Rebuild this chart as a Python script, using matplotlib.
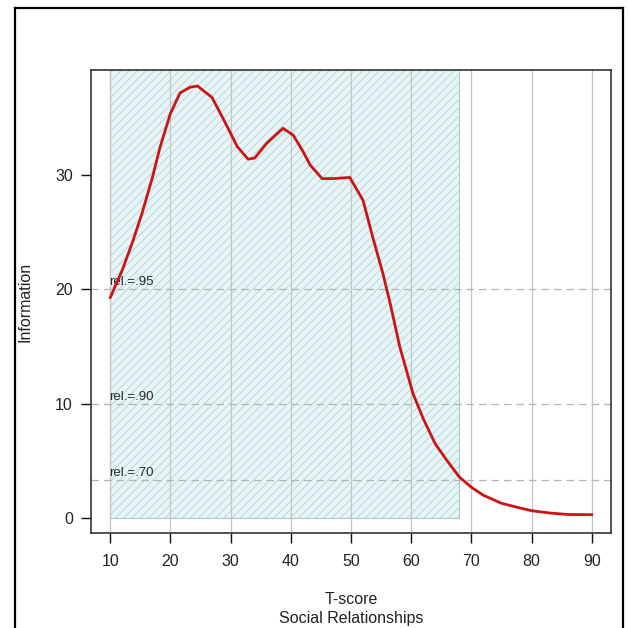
import matplotlib
matplotlib.use("Agg")
import matplotlib.pyplot as plt
from matplotlib.patches import Rectangle
from matplotlib.lines import Line2D

plt.rcParams['font.family'] = ['Liberation Sans', 'DejaVu Sans']
plt.rcParams['hatch.linewidth'] = 0.5

# Data
t_score = [10, 12, 13.8, 15.3, 17, 18.3, 20, 21.6, 23.3, 24.5, 26.9, 29, 31.1, 32.9, 34,
           36, 38.7, 40.4, 42, 43.2, 45.2, 47, 49.8, 52, 53.6, 55.3, 56.5, 58.1, 60.3,
           62, 64, 66, 68, 70, 72, 75, 78, 80, 83, 86, 90]
information = [19.3, 21.7, 24.3, 26.7, 29.8, 32.5, 35.4, 37.2, 37.7, 37.8, 36.8, 34.7, 32.5,
               31.4, 31.5, 32.8, 34.1, 33.5, 32.1, 30.9, 29.7, 29.7, 29.8, 27.8, 24.6, 21.4,
               18.8, 15.0, 10.9, 8.7, 6.5, 5.0, 3.6, 2.7, 2.0, 1.3, 0.9, 0.65, 0.45, 0.32, 0.3]
x_ticks = [10, 20, 30, 40, 50, 60, 70, 80, 90]
y_ticks = [0, 10, 20, 30]
rel_labels = ["rel.=.95", "rel.=.90", "rel.=.70"]
rel_values = [0.95, 0.90, 0.70]
range_lo, range_hi = 10, 68

W = H = 628
fig = plt.figure(figsize=(6.28, 6.28), dpi=100)
ax = fig.add_axes([91 / W, 1 - 533 / H, (611 - 91) / W, (533 - 70) / H])

ax.set_xlim(6.8, 93.2)
ax.set_ylim(-1.3, 39.2)

# shaded range
rect = Rectangle((range_lo, 0), range_hi - range_lo, 60, facecolor='#e8f5f7',
                 edgecolor='#a3cbd0', hatch='////', linewidth=0.8, zorder=1)
ax.add_patch(rect)

# vertical grid
for xv in x_ticks:
    ax.axvline(xv, color='#c4c4c4', lw=0.9, zorder=2)

# reliability lines
for lab, r in zip(rel_labels, rel_values):
    yv = 1.0 / (1.0 - r)
    ax.axhline(yv, color='#b4b4b4', lw=0.9, ls=(0, (6, 4)), zorder=2)
    ax.text(9.8, yv + 0.1, lab, fontsize=9.5, color='#2a2a2a', ha='left', va='bottom', zorder=3)

ax.plot(t_score, information, color='#cc1414', lw=2.0, zorder=4, solid_joinstyle='round')

ax.set_xticks(x_ticks)
ax.set_yticks(y_ticks)
ax.tick_params(axis='both', direction='out', length=7, width=1.0, labelsize=11.5,
               colors='#111111', labelcolor='#222222')
ax.tick_params(axis='x', pad=8)
ax.tick_params(axis='y', pad=6)
for s in ax.spines.values():
    s.set_color('#333333')
    s.set_linewidth(1.2)

fig.text(25 / W, 1 - 302 / H, "Information", rotation=90, fontsize=11.5,
         ha='center', va='center', color='#222222')
fig.text(351 / W, 1 - 600 / H, "T-score", fontsize=11.5, ha='center', va='center', color='#222222')
fig.text(351 / W, 1 - 619 / H, "Social Relationships", fontsize=11.5, ha='center', va='center',
         color='#222222')

# outer frame
for (x0, y0, x1, y1) in [(15, 8, 15, 640), (15, 8, 623, 8), (623, 8, 623, 640)]:
    fig.add_artist(Line2D([x0 / W, x1 / W], [1 - y0 / H, 1 - y1 / H], color='black', lw=1.6,
                          transform=fig.transFigure))

fig.savefig("out.png", dpi=100)
